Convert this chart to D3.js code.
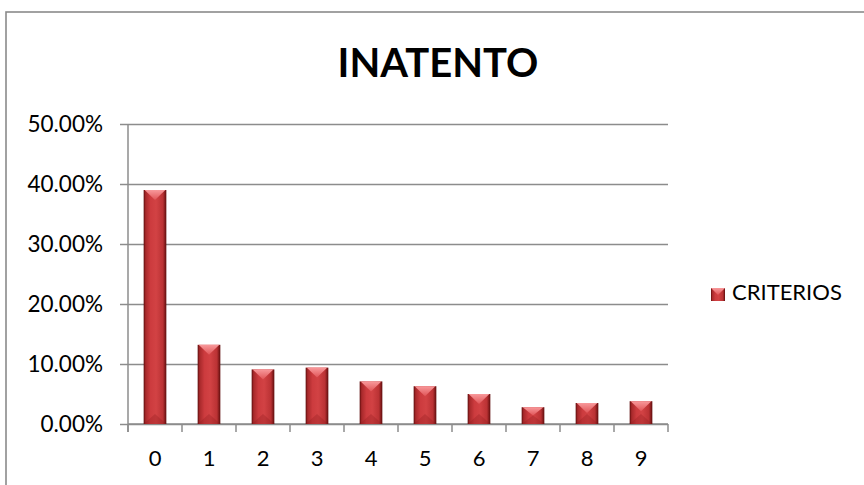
<!DOCTYPE html>
<html>
<head>
<meta charset="utf-8">
<script src="https://cdn.jsdelivr.net/npm/d3@7"></script>
<style>
  body { margin: 0; background: #ffffff; }
  text { font-family: Lato, "Open Sans", sans-serif; fill: #000; }
</style>
</head>
<body>
<div id="chart"></div>
<script>
// data
var categories = ["0", "1", "2", "3", "4", "5", "6", "7", "8", "9"];
var values = [0.390, 0.132, 0.091, 0.094, 0.071, 0.063, 0.050, 0.028, 0.035, 0.038];
var yTicks = [0, 0.1, 0.2, 0.3, 0.4, 0.5];
var seriesName = "CRITERIOS";
var chartTitle = "INATENTO";

var width = 864, height = 485;
var plot = { left: 128, right: 668, top: 124, bottom: 424 };

var svg = d3.select("#chart").append("svg")
    .attr("width", width)
    .attr("height", height)
    .style("background", "#ffffff");

// chart frame (runs off the right and bottom edges)
svg.append("rect")
    .attr("x", 6).attr("y", 12)
    .attr("width", 900).attr("height", 500)
    .attr("fill", "none")
    .attr("stroke", "#8a8a8a")
    .attr("stroke-width", 1.6);

var defs = svg.append("defs");

var body = defs.append("linearGradient").attr("id", "barBody")
    .attr("x1", "0%").attr("x2", "100%").attr("y1", "0%").attr("y2", "0%");
[["0%", "#5e0c0c"], ["9%", "#a8292b"], ["30%", "#cc3b3e"], ["55%", "#d24244"], ["85%", "#ba3234"], ["100%", "#5e0c0c"]]
  .forEach(function(s){ body.append("stop").attr("offset", s[0]).attr("stop-color", s[1]); });

var topG = defs.append("linearGradient").attr("id", "barTop")
    .attr("x1", "0%").attr("x2", "0%").attr("y1", "0%").attr("y2", "100%");
[["0%", "#f8999b"], ["100%", "#e05457"]]
  .forEach(function(s){ topG.append("stop").attr("offset", s[0]).attr("stop-color", s[1]); });

var x = d3.scaleBand()
    .domain(categories)
    .range([plot.left, plot.right])
    .padding(0);

var y = d3.scaleLinear()
    .domain([0, 0.5])
    .range([plot.bottom, plot.top]);

// gridlines
svg.append("g")
    .attr("transform", "translate(" + plot.left + ",0)")
    .call(d3.axisLeft(y).tickValues(yTicks).tickSize(-(plot.right - plot.left)).tickFormat(""))
    .call(function(g){ g.select(".domain").remove(); })
    .selectAll("line")
    .attr("stroke", "#8c8c8c")
    .attr("stroke-width", 1.5);

// y axis
var yAxis = svg.append("g")
    .attr("transform", "translate(" + plot.left + ",0)")
    .call(d3.axisLeft(y).tickValues(yTicks).tickFormat(d3.format(".2%")).tickSize(8).tickPadding(17));
yAxis.select(".domain").remove();
yAxis.selectAll("line").attr("stroke", "#8c8c8c").attr("stroke-width", 1.5);
yAxis.selectAll("text")
    .style("font-family", "Lato, sans-serif")
    .style("font-size", "22.5px")
    .attr("fill", "#000");

svg.append("line")
    .attr("x1", plot.left).attr("x2", plot.left)
    .attr("y1", plot.top).attr("y2", plot.bottom + 8)
    .attr("stroke", "#8c8c8c").attr("stroke-width", 1.5);

// x axis
svg.append("line")
    .attr("x1", plot.left).attr("x2", plot.right)
    .attr("y1", plot.bottom).attr("y2", plot.bottom)
    .attr("stroke", "#8c8c8c").attr("stroke-width", 1.5);

var bounds = categories.map(function(c){ return x(c); }).concat([plot.right]);
svg.append("g").selectAll("line")
    .data(bounds)
    .enter()
    .append("line")
      .attr("x1", function(d){ return d; })
      .attr("x2", function(d){ return d; })
      .attr("y1", plot.bottom)
      .attr("y2", plot.bottom + 8)
      .attr("stroke", "#8c8c8c")
      .attr("stroke-width", 1.5);

var xAxis = svg.append("g")
    .attr("transform", "translate(0," + plot.bottom + ")")
    .call(d3.axisBottom(x).tickSize(0).tickPadding(26));
xAxis.select(".domain").remove();
xAxis.selectAll("text")
    .style("font-family", "Lato, sans-serif")
    .style("font-size", "22px")
    .attr("fill", "#000");

// bars with bevelled top
var barW = x.bandwidth() * 0.42;
var bars = svg.append("g").selectAll("g")
    .data(values)
    .enter()
    .append("g");

bars.append("rect")
    .attr("x", function(d, i){ return x(categories[i]) + (x.bandwidth() - barW) / 2; })
    .attr("y", function(d){ return y(d); })
    .attr("width", barW)
    .attr("height", function(d){ return y(0) - y(d); })
    .attr("fill", "url(#barBody)");

bars.append("path")
    .attr("d", function(d, i){
        var x0 = x(categories[i]) + (x.bandwidth() - barW) / 2, x1 = x0 + barW;
        var t = y(d), b = Math.min(10, (y(0) - y(d)) / 2);
        return "M" + (x0 + 1) + "," + t + "L" + (x1 - 1) + "," + t + "L" + (x0 + barW / 2) + "," + (t + b) + "Z";
    })
    .attr("fill", "url(#barTop)");

bars.append("path")
    .attr("d", function(d, i){
        var x0 = x(categories[i]) + (x.bandwidth() - barW) / 2, x1 = x0 + barW;
        var bt = y(0), b = Math.min(10, (y(0) - y(d)) / 2);
        return "M" + x0 + "," + bt + "L" + x1 + "," + bt + "L" + (x0 + barW / 2) + "," + (bt - b) + "Z";
    })
    .attr("fill", "#8e1c1e")
    .attr("opacity", 0.3);

// title
svg.append("text")
    .attr("x", 438)
    .attr("y", 77)
    .attr("text-anchor", "middle")
    .style("font-family", "Lato, sans-serif")
    .style("font-weight", "bold")
    .style("font-size", "40px")
    .text(chartTitle);

// legend
var legend = svg.append("g").attr("transform", "translate(711,288)");
legend.append("rect")
    .attr("width", 14).attr("height", 13)
    .attr("fill", "url(#barBody)");
legend.append("path")
    .attr("d", "M0,0L14,0L7,7Z")
    .attr("fill", "url(#barTop)");
legend.append("text")
    .attr("x", 21)
    .attr("y", 12)
    .style("font-family", "Lato, sans-serif")
    .style("font-size", "22px")
    .text(seriesName);
</script>
</body>
</html>
